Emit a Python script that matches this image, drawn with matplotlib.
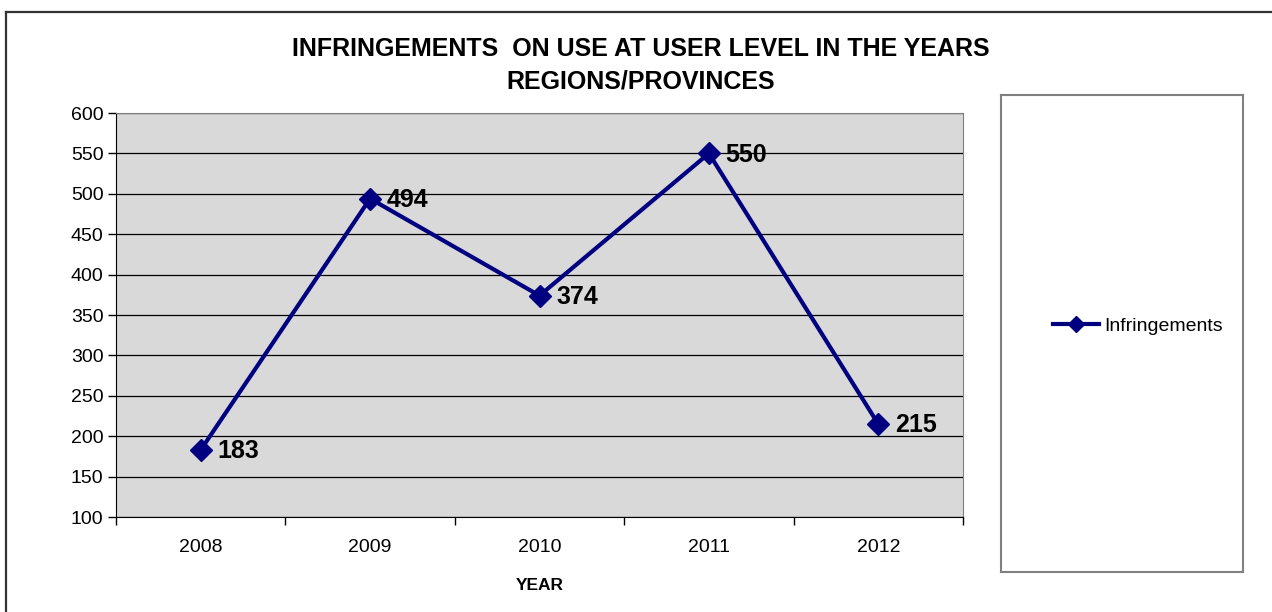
import numpy as np
import matplotlib.pyplot as plt
from matplotlib.lines import Line2D

years = ['2008', '2009', '2010', '2011', '2012']
infringements = [183, 494, 374, 550, 215]
yticks = [100, 150, 200, 250, 300, 350, 400, 450, 500, 550, 600]

plt.rcParams['font.family'] = ['Liberation Sans', 'DejaVu Sans']

W, H = 1272, 612
fig = plt.figure(figsize=(12.72, 6.12), dpi=100)

# plot area in pixels
l, r, t, b = 116, 963, 113, 517
ax = fig.add_axes([l / W, 1 - b / H, (r - l) / W, (b - t) / H])
ax.set_facecolor('#d9d9d9')

x = np.arange(len(years))
ax.plot(x, infringements, color='#000080', lw=3, marker='D', ms=11,
        label='Infringements', zorder=3)
for xi, v in zip(x, infringements):
    ax.annotate(str(v), (xi, v), xytext=(12, -1), textcoords='offset points',
                ha='left', va='center', fontsize=18, fontweight='bold', color='black')

ax.set_xlim(-0.5, len(years) - 0.5)
ax.set_ylim(100, 600)
ax.set_yticks(yticks)
ax.tick_params(axis='y', labelsize=14, length=6, width=1, direction='out', pad=3)
ax.set_xticks(x)
ax.set_xticklabels(years)
ax.set_xticks(np.arange(-0.5, len(years)), minor=True)
ax.tick_params(axis='x', which='major', length=0, labelsize=14, pad=16)
ax.tick_params(axis='x', which='minor', length=6, width=1, direction='out')
ax.grid(axis='y', color='black', lw=0.9)
ax.set_axisbelow(True)
ax.spines['left'].set_color('black')
ax.spines['bottom'].set_color('black')
ax.spines['top'].set_color('#808080')
ax.spines['right'].set_color('#808080')
ax.set_xlabel('YEAR', fontsize=12.5, fontweight='bold', labelpad=16)

fig.text(641 / W, 1 - 65 / H, 'INFRINGEMENTS  ON USE AT USER LEVEL IN THE YEARS\nREGIONS/PROVINCES',
         ha='center', va='center', fontsize=18, fontweight='bold', linespacing=1.45)

# legend box
lax = fig.add_axes([1001 / W, 1 - 572 / H, 242 / W, 477 / H])
lax.set_xticks([])
lax.set_yticks([])
for s in lax.spines.values():
    s.set_color('#808080')
    s.set_linewidth(1.5)
h, lab = ax.get_legend_handles_labels()
lax.legend(h, lab, loc='center', bbox_to_anchor=(0.565, 0.515), frameon=False,
           fontsize=14, handlelength=2.4, handletextpad=0.25, markerscale=0.7)

# outer border (top and left edges)
fig.add_artist(Line2D([5.5 / W, 1], [1 - 11.5 / H] * 2, color='#333333', lw=1.6))
fig.add_artist(Line2D([5.5 / W] * 2, [0, 1 - 11.5 / H], color='#333333', lw=1.6))

fig.savefig('out.png', dpi=100)
